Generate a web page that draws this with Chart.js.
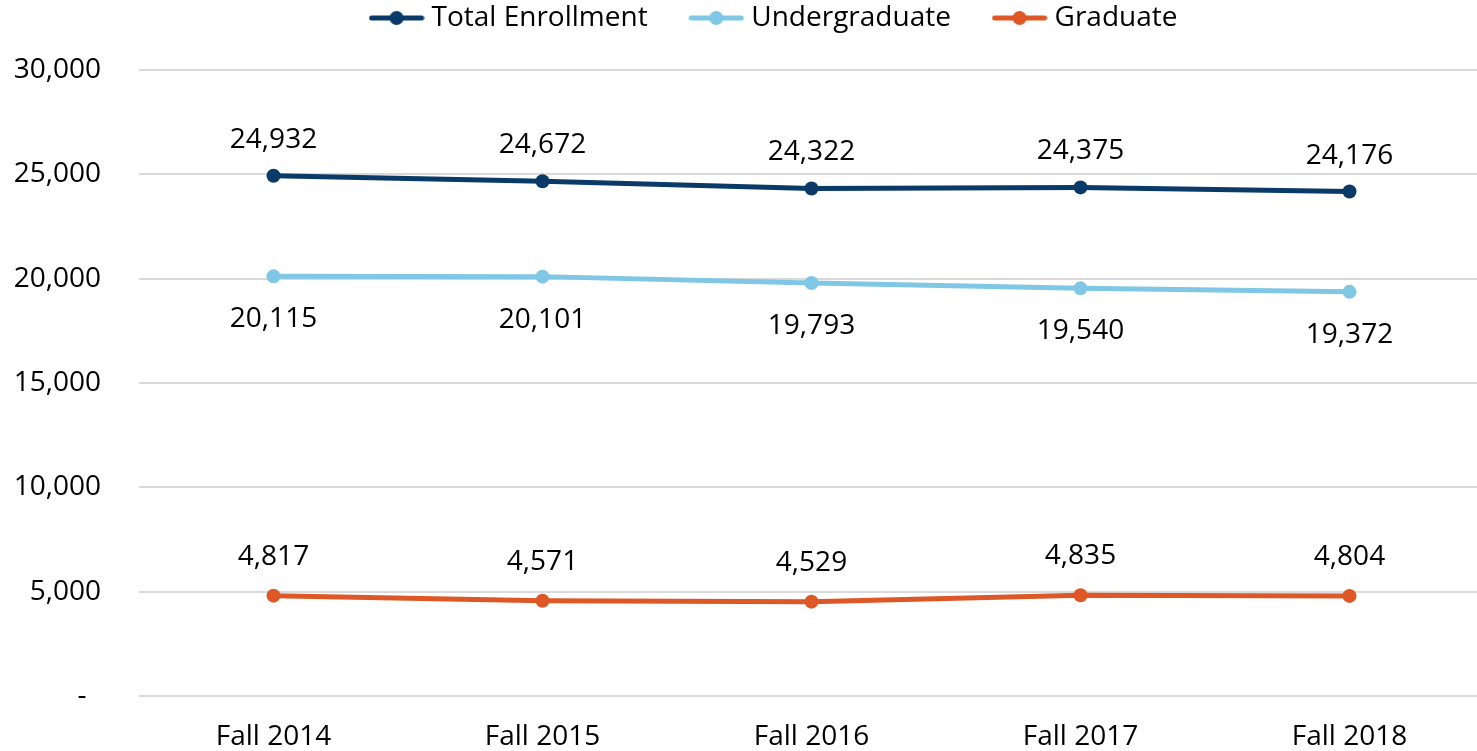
<!DOCTYPE html>
<html>
<head>
<meta charset="utf-8">
<title>Enrollment</title>
<script src="https://cdn.jsdelivr.net/npm/chart.js@4"></script>
<style>
  html, body { margin: 0; padding: 0; background: #fff; }
  #wrap { width: 1477px; height: 751px; }
</style>
</head>
<body>
<div id="wrap"><canvas id="chart"></canvas></div>
<script>
const categories = ["Fall 2014", "Fall 2015", "Fall 2016", "Fall 2017", "Fall 2018"];
const totalEnrollment = [24932, 24672, 24322, 24375, 24176];
const undergraduate = [20115, 20101, 19793, 19540, 19372];
const graduate = [4817, 4571, 4529, 4835, 4804];
const yTicks = [0, 5000, 10000, 15000, 20000, 25000, 30000];

const FONT = "'Open Sans', 'Liberation Sans', sans-serif";
const SIZE = 28;
const navy = "#0a3b68";
const sky = "#7fc7e4";
const orange = "#dd5727";

// little line-with-dot marker for the legend
const legendMarker = (color) => {
  const c = document.createElement("canvas");
  c.width = 56; c.height = 16;
  const g = c.getContext("2d");
  g.strokeStyle = color;
  g.lineWidth = 5;
  g.lineCap = "round";
  g.beginPath();
  g.moveTo(3, 8); g.lineTo(53, 8);
  g.stroke();
  g.fillStyle = color;
  g.beginPath();
  g.arc(28, 8, 7, 0, Math.PI * 2);
  g.fill();
  return c;
};

// value labels: positive offset = above the point, negative = below
const valueLabels = {
  id: "valueLabels",
  afterDatasetsDraw(chart) {
    const ctx = chart.ctx;
    ctx.save();
    ctx.font = SIZE + "px " + FONT;
    ctx.fillStyle = "#000";
    ctx.textAlign = "center";
    ctx.textBaseline = "middle";
    chart.data.datasets.forEach((ds, i) => {
      const meta = chart.getDatasetMeta(i);
      meta.data.forEach((pt, j) => {
        ctx.fillText(ds.data[j].toLocaleString("en-US"), pt.x, pt.y - ds.labelOffset);
      });
    });
    ctx.restore();
  }
};

// extra room under the legend, plot stretched a bit past the right edge,
// legend nudged right like the original
const layoutTweaks = {
  id: "layoutTweaks",
  beforeInit(chart) {
    const origFit = chart.legend.fit;
    chart.legend.fit = function () {
      origFit.call(this);
      this.height += 28;
    };
  },
  afterLayout(chart) {
    const x = chart.scales.x;
    chart.chartArea.right += 14;
    x.right += 14;
    x.width += 14;
    x.configure();
    chart.legend.left += 76;
  }
};

const mkSet = (label, data, color, offset) => ({
  label: label,
  data: data,
  borderColor: color,
  backgroundColor: color,
  borderWidth: 5,
  pointRadius: 7,
  pointHoverRadius: 7,
  pointBorderWidth: 0,
  pointStyle: "circle",
  legendImg: legendMarker(color),
  labelOffset: offset,
  tension: 0,
  clip: false
});

new Chart(document.getElementById("chart"), {
  type: "line",
  data: {
    labels: categories,
    datasets: [
      mkSet("Total Enrollment", totalEnrollment, navy, 36),
      mkSet("Undergraduate", undergraduate, sky, -43),
      mkSet("Graduate", graduate, orange, 39)
    ]
  },
  plugins: [valueLabels, layoutTweaks],
  options: {
    responsive: true,
    maintainAspectRatio: false,
    animation: false,
    plugins: {
      tooltip: { enabled: false },
      legend: {
        position: "top",
        labels: {
          usePointStyle: true,
          pointStyleWidth: 42,
          padding: 4,
          color: "#000",
          font: { family: FONT, size: SIZE },
          generateLabels(chart) {
            const n = chart.data.datasets.length;
            return chart.data.datasets.map((ds, i) => ({
              text: i < n - 1 ? ds.label + "      " : ds.label,
              pointStyle: ds.legendImg,
              fillStyle: ds.borderColor,
              strokeStyle: ds.borderColor,
              lineWidth: 0,
              hidden: false,
              datasetIndex: i
            }));
          }
        }
      }
    },
    scales: {
      x: {
        offset: true,
        afterFit(scale) { scale.height = 54; },
        grid: { display: false },
        border: { display: false },
        ticks: { color: "#000", padding: 16, font: { family: FONT, size: SIZE } }
      },
      y: {
        min: 0,
        max: 30000,
        afterBuildTicks(scale) {
          scale.ticks = yTicks.map(v => ({ value: v }));
        },
        afterFit(scale) { scale.width = 139; },
        grid: { color: "#d9d9d9", lineWidth: 2, drawTicks: false },
        border: { display: false },
        ticks: {
          color: "#000",
          padding: 38,
          font: { family: FONT, size: SIZE },
          callback: (v) => v === 0 ? "-  " : v.toLocaleString("en-US")
        }
      }
    }
  }
});
</script>
</body>
</html>
